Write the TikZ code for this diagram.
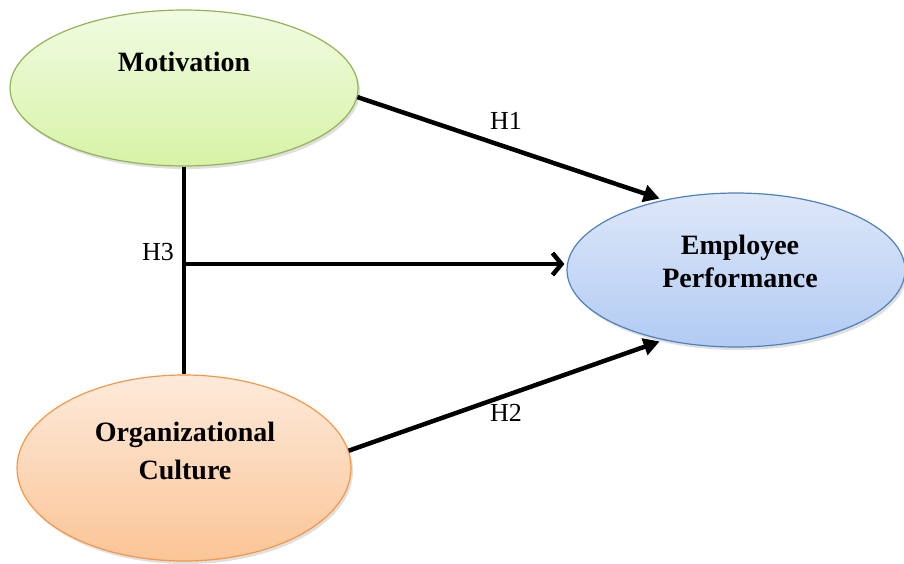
\documentclass[tikz,border=0pt]{standalone}
\usepackage{fontspec}
\setmainfont{Liberation Serif}
\usetikzlibrary{shapes.geometric,arrows.meta,shadows,calc}
\definecolor{motTop}{HTML}{F1FBE2}
\definecolor{motBot}{HTML}{D6F3A6}
\definecolor{motLine}{HTML}{94B356}
\definecolor{orgTop}{HTML}{FDEADB}
\definecolor{orgBot}{HTML}{FBC596}
\definecolor{orgLine}{HTML}{F79646}
\definecolor{empTop}{HTML}{DDE7F9}
\definecolor{empBot}{HTML}{B2CBF3}
\definecolor{empLine}{HTML}{4F81BD}
\tikzset{
  x=1pt, y=-1pt,
  construct/.style={ellipse, inner sep=0pt, line width=1.2pt,
    drop shadow={shadow xshift=2pt, shadow yshift=-3pt, opacity=0.25}},
  nodetext/.style={font=\fontsize{28}{33}\selectfont\bfseries, align=center, inner sep=0pt},
  hyplabel/.style={font=\fontsize{26}{30}\selectfont, inner sep=0pt},
  link/.style={line width=4.5pt},
  filledtip/.style={link, -{Triangle[length=16pt, width=17pt]}},
  opentip/.style={link, -{Straight Barb[length=9pt, width=22pt, line width=4.5pt]}},
}
\begin{document}
\begin{tikzpicture}
\useasboundingbox (0,0) rectangle (904,563);
% constructs
\node[construct, draw=motLine, top color=motTop, bottom color=motBot,
      minimum width=348pt, minimum height=156pt] (mot) at (184,88) {};
\node[construct, draw=orgLine, top color=orgTop, bottom color=orgBot,
      minimum width=334pt, minimum height=186pt] (org) at (184,468) {};
\node[construct, draw=empLine, top color=empTop, bottom color=empBot,
      minimum width=338pt, minimum height=154pt] (emp) at (736,270) {};
% texts
\node[nodetext] (mottext) at (184,62) {Motivation};
\node[nodetext, font=\fontsize{28}{38}\selectfont\bfseries] (orgtext) at (185,451) {Organizational\\Culture};
\node[nodetext] (emptext) at (740,261) {Employee\\Performance};
% connectors
\coordinate (junction) at (184,264);
\draw[link] (mot.south) -- (org.north);
\draw[opentip, shorten >=2pt] (junction) -- (emp.west |- junction);
\draw[filledtip, shorten >=4pt] (mot.-3) -- (emp.136);
\draw[filledtip, shorten >=4pt] (org.6) -- (emp.-136);
% labels
\node[hyplabel] (h1) at (506,121) {H1};
\node[hyplabel] (h2) at (506,413) {H2};
\node[hyplabel] (h3) at (158,252) {H3};
\end{tikzpicture}
\end{document}
